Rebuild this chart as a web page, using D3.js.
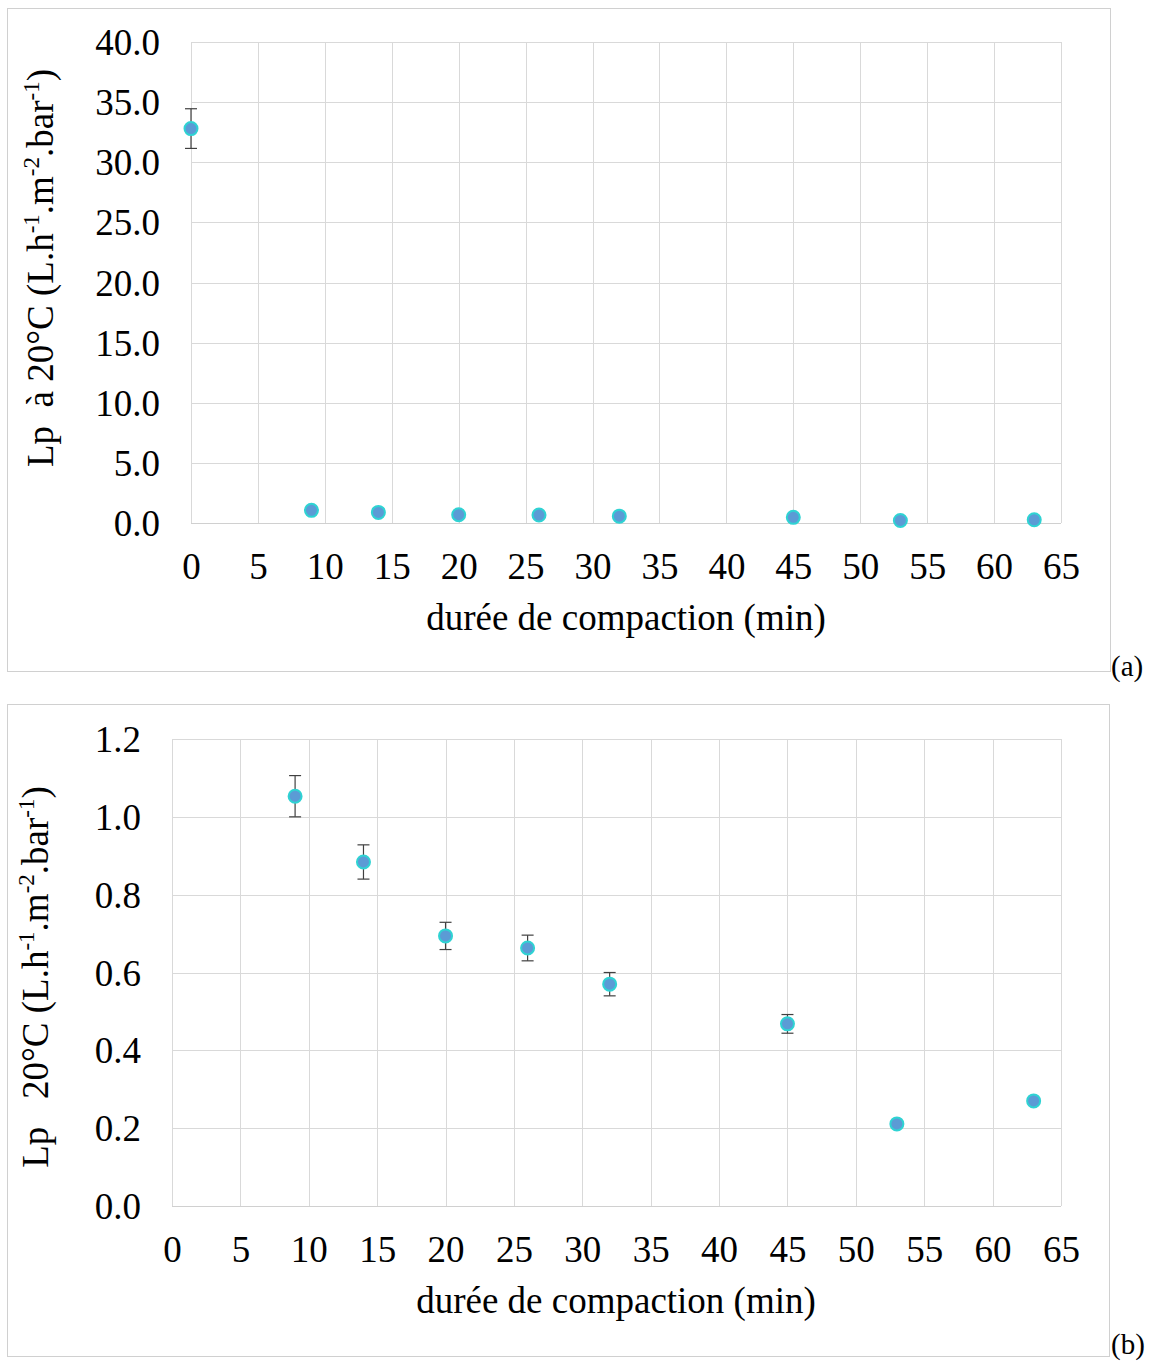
<!DOCTYPE html>
<html><head><meta charset="utf-8">
<script src="https://cdn.jsdelivr.net/npm/d3@7"></script>
<style>body{margin:0;background:#fff}svg{display:block}text{font-family:"Liberation Serif","Times New Roman",serif;fill:#000;white-space:pre}</style>
</head><body>
<svg id="c" width="1152" height="1362"></svg>
<script>
const timeA = [0, 9, 14, 20, 26, 32, 45, 53, 63];
const lpA   = [32.8, 1.05, 0.88, 0.69, 0.66, 0.57, 0.47, 0.21, 0.27];
const errA  = [1.65, 0.053, 0.044, 0.035, 0.033, 0.03, 0.024, 0, 0];
const timeB = [9, 14, 20, 26, 32, 45, 53, 63];
const lpB   = [1.053, 0.884, 0.694, 0.663, 0.570, 0.468, 0.211, 0.270];
const errB  = [0.053, 0.044, 0.035, 0.033, 0.030, 0.024, 0, 0];
const xTicks = [0,5,10,15,20,25,30,35,40,45,50,55,60,65];
const yTicksA = [0,5,10,15,20,25,30,35,40];
const yTicksB = [0,0.2,0.4,0.6,0.8,1.0,1.2];
const xTitle = "durée de compaction (min)";

const svg = d3.select("#c");
const FS = 37;

function panel(o){
  const g = svg.append("g");
  g.append("rect").attr("x",o.box[0]+0.5).attr("y",o.box[1]+0.5).attr("width",o.box[2]).attr("height",o.box[3])
    .attr("fill","none").attr("stroke","#d0d0d0").attr("stroke-width",1);
  const x = d3.scaleLinear().domain([0,65]).range([o.L,o.R]);
  const y = d3.scaleLinear().domain([0,o.ymax]).range([o.B,o.T]);
  const yAx = d3.axisLeft(y).tickValues(o.yTicks).tickSize(-(o.R-o.L)).tickFormat(o.fmt).tickPadding(o.L-o.labRight);
  const ga = g.append("g").attr("transform",`translate(${o.L},0)`).call(yAx);
  ga.select(".domain").remove();
  ga.selectAll("line").attr("stroke","#d9d9d9").attr("shape-rendering","crispEdges");
  ga.selectAll("text").attr("font-size",FS).attr("dy","0.34em");
  const xAx = d3.axisBottom(x).tickValues(xTicks).tickSize(-(o.B-o.T)).tickPadding(30);
  const gx = g.append("g").attr("transform",`translate(0,${o.B})`).call(xAx);
  gx.select(".domain").remove();
  gx.selectAll("line").attr("stroke","#d9d9d9").attr("shape-rendering","crispEdges");
  gx.selectAll("text").attr("font-size",FS).attr("dy","0.71em");
  g.append("line").attr("x1",o.L).attr("x2",o.R).attr("y1",o.B+0.5).attr("y2",o.B+0.5).attr("stroke","#d0d0d0");
  const eb = g.append("g").attr("stroke","#404040").attr("stroke-width",1.2);
  o.t.forEach((t,i)=>{
    if(!o.e[i]) return;
    const cx = x(t), y1 = y(o.v[i]+o.e[i]), y2 = y(o.v[i]-o.e[i]);
    eb.append("line").attr("x1",cx).attr("x2",cx).attr("y1",y1).attr("y2",y2);
    eb.append("line").attr("x1",cx-6).attr("x2",cx+6).attr("y1",y1).attr("y2",y1);
    eb.append("line").attr("x1",cx-6).attr("x2",cx+6).attr("y1",y2).attr("y2",y2);
  });
  g.append("g").selectAll("circle").data(o.t).join("circle")
    .attr("cx",d=>x(d)).attr("cy",(d,i)=>y(o.v[i])).attr("r",6.5)
    .attr("fill","#5b9bd5").attr("stroke","#2fd3d3").attr("stroke-width",2);
  g.append("text").attr("x",o.xtx).attr("y",o.xty).attr("text-anchor","middle").attr("font-size",FS).text(xTitle);
  const yt = g.append("text").attr("transform",`translate(${o.ytx},${o.yty}) rotate(-90)`).attr("text-anchor","middle").attr("font-size",FS);
  yt.append("tspan").text(o.yPre+" (L.h");
  yt.append("tspan").attr("font-size",23).attr("dy",-14).text("-1");
  yt.append("tspan").attr("dy",14).text(".m");
  yt.append("tspan").attr("font-size",23).attr("dy",-14).text("-2");
  yt.append("tspan").attr("dy",14).text(".bar");
  yt.append("tspan").attr("font-size",23).attr("dy",-14).text("-1");
  yt.append("tspan").attr("dy",14).text(")");
  g.append("text").attr("x",1111).attr("y",o.lab[1]).attr("font-size",29).text(o.lab[0]);
}

panel({box:[7,8,1103,663], L:191,R:1061,T:42,B:523, ymax:40, yTicks:yTicksA, fmt:d3.format(".1f"), labRight:160,
  t:timeA, v:lpA, e:errA, xtx:626, xty:630, ytx:53, yty:268, yPre:"Lp  à 20°C", lab:["(a)",676]});
panel({box:[7,704,1102,652], L:172,R:1061,T:739,B:1206, ymax:1.2, yTicks:yTicksB, fmt:d3.format(".1f"), labRight:141,
  t:timeB, v:lpB, e:errB, xtx:616, xty:1313, ytx:48, yty:977, yPre:"Lp   20°C", lab:["(b)",1354]});
</script>
</body></html>
